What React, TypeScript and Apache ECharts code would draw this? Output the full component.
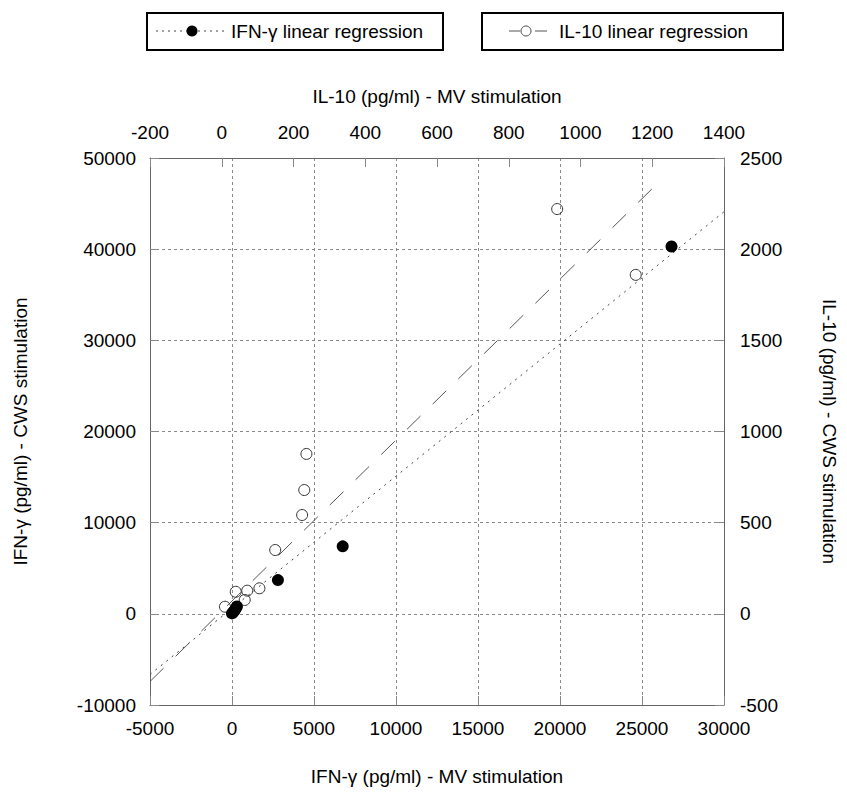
import React, { useEffect, useRef } from "react";
import * as echarts from "echarts";

// IFN-γ (pg/ml): MV stimulation (x) vs CWS stimulation (y)
const ifnX = [26800, 6750, 2800, 0, 80, 150, 220, 300];
const ifnY = [40300, 7400, 3700, 50, 200, 350, 550, 800];

// IL-10 (pg/ml): MV stimulation (x) vs CWS stimulation (y)
const ilX = [935, 1154, 236, 230, 224, 149, 105, 39, 71, 64, 9];
const ilY = [2220, 1859, 877, 679, 542, 350, 140, 121, 127, 76, 39];

// Regression line end points
const ifnFitX = [-5000, 30000];
const ifnFitY = [-6650, 44100];
const ilFitX = [-200, 1200];
const ilFitY = [-371, 2332];

// Axis ranges and tick steps
const bottomAxis = { min: -5000, max: 30000, step: 5000 };
const topAxis = { min: -200, max: 1400, step: 200 };
const leftAxis = { min: -10000, max: 50000, step: 10000 };
const rightAxis = { min: -500, max: 2500, step: 500 };

const legendLabels = ["IFN-γ linear regression", "IL-10 linear regression"];
const axisTitles = {
  bottom: "IFN-γ (pg/ml) - MV stimulation",
  top: "IL-10 (pg/ml) - MV stimulation",
  left: "IFN-γ (pg/ml) - CWS stimulation",
  right: "IL-10 (pg/ml) - CWS stimulation",
};

const FONT = "'Liberation Sans', Arial, Helvetica, sans-serif";
const FS = 19;

export default function App() {
  const ref = useRef<HTMLDivElement>(null);
  useEffect(() => {
    if (!ref.current) return;
    const chart = echarts.init(ref.current, undefined, { renderer: "svg" });
    const axisLine = { show: true, onZero: false, lineStyle: { color: "#666", width: 1 } };
    const axisTick = { show: true, inside: true, length: 9, lineStyle: { color: "#888" } };
    const axisLabel = (m: number) => ({
      color: "#000", fontSize: FS, fontFamily: FONT, margin: m,
      formatter: (v: number) => String(v),
    });
    const nameStyle = { color: "#000", fontSize: FS, fontFamily: FONT };
    const split = { show: true, lineStyle: { color: "#888", type: [3, 3], width: 1 } };

    const option: any = {
      animation: false,
      backgroundColor: "#fff",
      grid: { left: 150, right: 116, top: 158, bottom: 92, containLabel: false },
      xAxis: [
        {
          type: "value", position: "bottom", min: bottomAxis.min, max: bottomAxis.max, interval: bottomAxis.step,
          axisLine, axisTick, axisLabel: axisLabel(14), splitLine: split,
          name: axisTitles.bottom, nameLocation: "middle", nameGap: 62, nameTextStyle: nameStyle,
        },
        {
          type: "value", position: "top", min: topAxis.min, max: topAxis.max, interval: topAxis.step,
          axisLine, axisTick, axisLabel: axisLabel(16), splitLine: { show: false },
          name: axisTitles.top, nameLocation: "middle", nameGap: 52, nameTextStyle: nameStyle,
        },
      ],
      yAxis: [
        {
          type: "value", position: "left", min: leftAxis.min, max: leftAxis.max, interval: leftAxis.step,
          axisLine, axisTick, axisLabel: axisLabel(14), splitLine: split,
          name: axisTitles.left, nameLocation: "middle", nameGap: 120, nameRotate: 90, nameTextStyle: nameStyle,
        },
        {
          type: "value", position: "right", min: rightAxis.min, max: rightAxis.max, interval: rightAxis.step,
          axisLine, axisTick, axisLabel: axisLabel(16), splitLine: { show: false },
          name: axisTitles.right, nameLocation: "middle", nameGap: 96, nameRotate: -90, nameTextStyle: nameStyle,
        },
      ],
      series: [
        {
          type: "line", xAxisIndex: 1, yAxisIndex: 1, showSymbol: false, silent: true,
          data: ilFitX.map((x, i) => [x, ilFitY[i]]),
          lineStyle: { color: "#555", width: 1, type: [19, 17] },
          z: 2,
        },
        {
          type: "line", xAxisIndex: 0, yAxisIndex: 0, showSymbol: false, silent: true,
          data: ifnFitX.map((x, i) => [x, ifnFitY[i]]),
          lineStyle: { color: "#444", width: 1, type: [2, 5] },
          z: 2,
        },
        {
          type: "scatter", xAxisIndex: 1, yAxisIndex: 1, symbol: "circle", symbolSize: 11,
          data: ilX.map((x, i) => [x, ilY[i]]),
          itemStyle: { color: "transparent", borderColor: "#333", borderWidth: 1, opacity: 1 },
          z: 3,
        },
        {
          type: "scatter", xAxisIndex: 0, yAxisIndex: 0, symbol: "circle", symbolSize: 12,
          data: ifnX.map((x, i) => [x, ifnY[i]]),
          itemStyle: { color: "#000", opacity: 1 },
          z: 4,
        },
      ],
      graphic: [
        { type: "rect", shape: { x: 147, y: 13, width: 296, height: 37 }, style: { fill: "none", stroke: "#000", lineWidth: 2 } },
        { type: "line", shape: { x1: 156, y1: 31, x2: 226, y2: 31 }, style: { stroke: "#444", lineWidth: 1, lineDash: [2, 4] } },
        { type: "circle", shape: { cx: 192, cy: 31, r: 5.5 }, style: { fill: "#000" } },
        { type: "text", x: 231, y: 31, style: { text: legendLabels[0], fontSize: FS, fontFamily: FONT, fill: "#000", verticalAlign: "middle" } },
        { type: "rect", shape: { x: 482, y: 13, width: 301, height: 37 }, style: { fill: "none", stroke: "#000", lineWidth: 2 } },
        { type: "line", shape: { x1: 509, y1: 31, x2: 520, y2: 31 }, style: { stroke: "#555", lineWidth: 1 } },
        { type: "line", shape: { x1: 535, y1: 31, x2: 547, y2: 31 }, style: { stroke: "#555", lineWidth: 1 } },
        { type: "circle", shape: { cx: 526, cy: 31, r: 5 }, style: { fill: "#fff", stroke: "#444", lineWidth: 1 } },
        { type: "text", x: 559, y: 31, style: { text: legendLabels[1], fontSize: FS, fontFamily: FONT, fill: "#000", verticalAlign: "middle" } },
      ],
    };
    chart.setOption(option);
    return () => chart.dispose();
  }, []);
  return <div ref={ref} style={{ position: "fixed", left: 0, top: 0, width: 847, height: 797, background: "#fff" }} />;
}
